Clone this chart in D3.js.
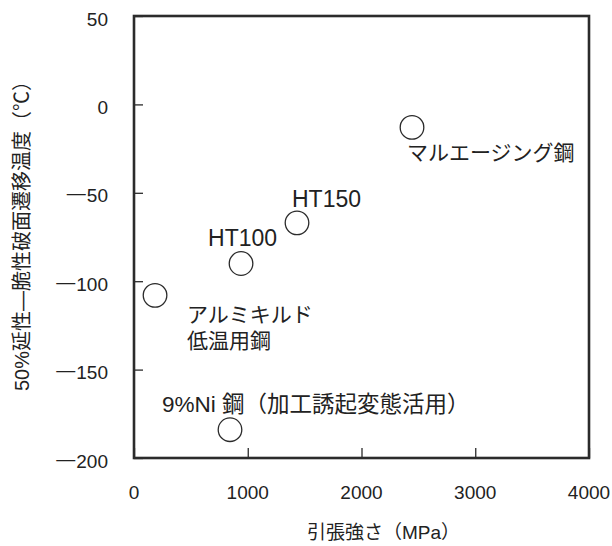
<!DOCTYPE html>
<html>
<head>
<meta charset="utf-8">
<script src="https://cdn.jsdelivr.net/npm/d3@7"></script>
<style>
  html, body { margin: 0; padding: 0; background: #fff; }
  text { font-family: "Liberation Sans", Arial, "Noto Sans CJK JP", sans-serif; fill: #222; }
</style>
</head>
<body>
<svg id="chart" width="612" height="546"></svg>
<script>
// Steel grades: tensile strength (MPa) vs 50% FATT (°C)
const grades = ["アルミキルド低温用鋼", "HT100", "HT150", "マルエージング鋼", "9%Ni 鋼（加工誘起変態活用）"];
const labelLines = [["アルミキルド", "低温用鋼"], ["HT100"], ["HT150"], ["マルエージング鋼"], ["9%Ni 鋼（加工誘起変態活用）"]];
const strength = [185, 941, 1433, 2444, 844];
const transition = [-108, -90, -67, -13, -184];
const xTicks = [0, 1000, 2000, 3000, 4000];
const yTicks = [50, 0, -50, -100, -150, -200];

const svg = d3.select("#chart");
const plotL = 134, plotR = 589, plotT = 16, plotB = 458;

const x = d3.scaleLinear().domain([0, 4000]).range([plotL, plotR]);
const y = d3.scaleLinear().domain([-200, 50]).range([plotB, plotT]);

const ink = "#2b2b2b";

// inward tick marks (frame drawn on top)
const xAxis = d3.axisTop(x).tickValues(xTicks).tickSize(10).tickFormat("");
const yAxis = d3.axisRight(y).tickValues(yTicks).tickSize(9).tickFormat("");
svg.append("g").attr("transform", `translate(0,${plotB})`).call(xAxis)
  .call(g => g.select(".domain").remove())
  .call(g => g.selectAll("line").attr("stroke", ink).attr("stroke-width", 1.3));
svg.append("g").attr("transform", `translate(${plotL},0)`).call(yAxis)
  .call(g => g.select(".domain").remove())
  .call(g => g.selectAll("line").attr("stroke", ink).attr("stroke-width", 1.3));

// frame
svg.append("rect")
  .attr("x", plotL).attr("y", plotT)
  .attr("width", plotR - plotL).attr("height", plotB - plotT)
  .attr("fill", "none").attr("stroke", ink).attr("stroke-width", 2.6);

// tick labels
svg.append("g").selectAll("text").data(xTicks).join("text")
  .attr("x", d => x(d)).attr("y", 499)
  .attr("text-anchor", "middle").attr("font-size", 19)
  .text(d => d);

// y labels: long minus dash raised to the middle of the digits
const yl = svg.append("g").selectAll("text").data(yTicks).join("text")
  .attr("x", 108).attr("y", d => y(d) + 9.5)
  .attr("text-anchor", "end").attr("font-size", 19);
yl.filter(d => d < 0).append("tspan").attr("dy", -3).text("\u2014");
yl.append("tspan").attr("dx", d => d < 0 ? 1 : 0).attr("dy", d => d < 0 ? 3 : 0).text(d => Math.abs(d));

// axis titles
svg.append("text")
  .attr("x", 307).attr("y", 539)
  .attr("font-size", 19)
  .text("引張強さ（MPa）");

svg.append("text")
  .attr("transform", "translate(29,231) rotate(-90)")
  .attr("text-anchor", "middle").attr("font-size", 20)
  .text("50%延性―脆性破面遷移温度（℃）");

// points
const pts = grades.map((g, i) => ({ name: g, lines: labelLines[i], sx: strength[i], ty: transition[i] }));

svg.append("g").selectAll("circle").data(pts).join("circle")
  .attr("cx", d => x(d.sx)).attr("cy", d => y(d.ty))
  .attr("r", 11.8)
  .attr("fill", "#fff").attr("stroke", ink).attr("stroke-width", 1.3);

// label placement and size relative to each point
const offsets = [
  { dx: 32, dy: 27, fs: 21 },
  { dx: -33, dy: -18, fs: 23 },
  { dx: -5, dy: -16, fs: 23 },
  { dx: -5, dy: 33, fs: 21 },
  { dx: -68, dy: -18, fs: 22.5 }
];

const lab = svg.append("g").selectAll("text").data(pts).join("text")
  .attr("font-size", (d, i) => offsets[i].fs)
  .attr("x", (d, i) => x(d.sx) + offsets[i].dx)
  .attr("y", (d, i) => y(d.ty) + offsets[i].dy);

lab.each(function(d, i) {
  const t = d3.select(this);
  d.lines.forEach((line, k) => {
    t.append("tspan")
      .attr("x", x(d.sx) + offsets[i].dx)
      .attr("dy", k === 0 ? 0 : 26)
      .text(line);
  });
});
</script>
</body>
</html>
